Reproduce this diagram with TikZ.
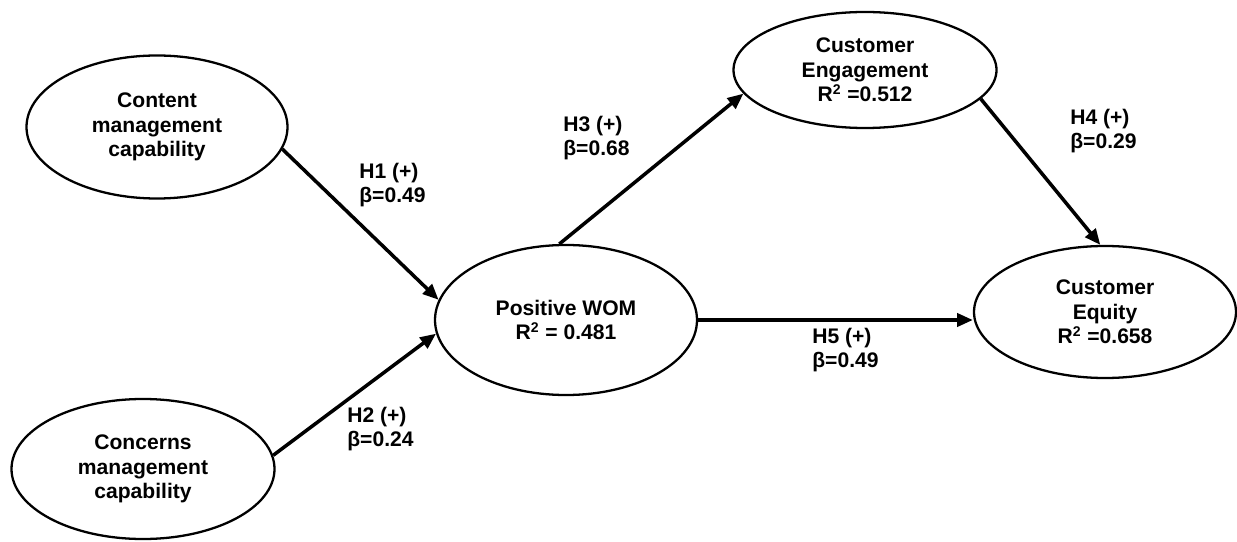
\documentclass[tikz,border=0pt]{standalone}
\usepackage{fontspec}
\setmainfont{Liberation Sans}
\usepackage{tikz}
\usetikzlibrary{positioning, arrows.meta, shapes.geometric}
\definecolor{LineColor}{RGB}{0,0,0}
\tikzstyle{construct} = [ellipse, draw=LineColor, line width=1.3pt, inner sep=0pt, align=center, font=\bfseries\fontsize{12}{14}\selectfont]
\tikzstyle{effect} = [line width=2pt, LineColor, -{Triangle[length=9pt,width=7.5pt]}]
\tikzstyle{coef} = [anchor=west, align=left, inner sep=0pt, font=\bfseries\fontsize{12}{14}\selectfont]

\begin{document}
\begin{tikzpicture}
            \useasboundingbox (0,0) rectangle (24.74,10.82);

            % Constructs
            \node[construct, minimum width=5.22cm, minimum height=2.86cm] (content) at (3.14,8.28) {Content\\management\\capability};
            \node[construct, minimum width=5.26cm, minimum height=2.80cm] (concerns) at (2.86,1.44) {Concerns\\management\\capability};
            \node[construct, minimum width=5.24cm, minimum height=3.00cm] (wom) at (11.32,4.42) {Positive WOM\\R\textsuperscript{2} = 0.481};
            \node[construct, minimum width=5.26cm, minimum height=2.32cm] (engage) at (17.30,9.42) {Customer\\Engagement\\R\textsuperscript{2} =0.512};
            \node[construct, minimum width=5.24cm, minimum height=2.64cm] (equity) at (22.10,4.58) {Customer\\Equity\\R\textsuperscript{2} =0.658};

            % Paths
            \draw[effect] (content.-10) -- (wom.171);
            \draw[effect] (concerns.6) -- (wom.186);
            \draw[effect] (wom.95) -- (engage.191);
            \draw[effect] (engage.-14) -- (equity.94);
            \draw[effect] (wom.east) -- (wom.east -| equity.west);

            % Coefficients
            \node[coef] (h1) at (7.18,7.12) {H1 (+)\\β=0.49};
            \node[coef] (h2) at (6.94,2.24) {H2 (+)\\β=0.24};
            \node[coef] (h3) at (11.26,8.06) {H3 (+)\\β=0.68};
            \node[coef] (h4) at (21.40,8.20) {H4 (+)\\β=0.29};
            \node[coef] (h5) at (16.24,3.82) {H5 (+)\\β=0.49};
        \end{tikzpicture}
\end{document}
